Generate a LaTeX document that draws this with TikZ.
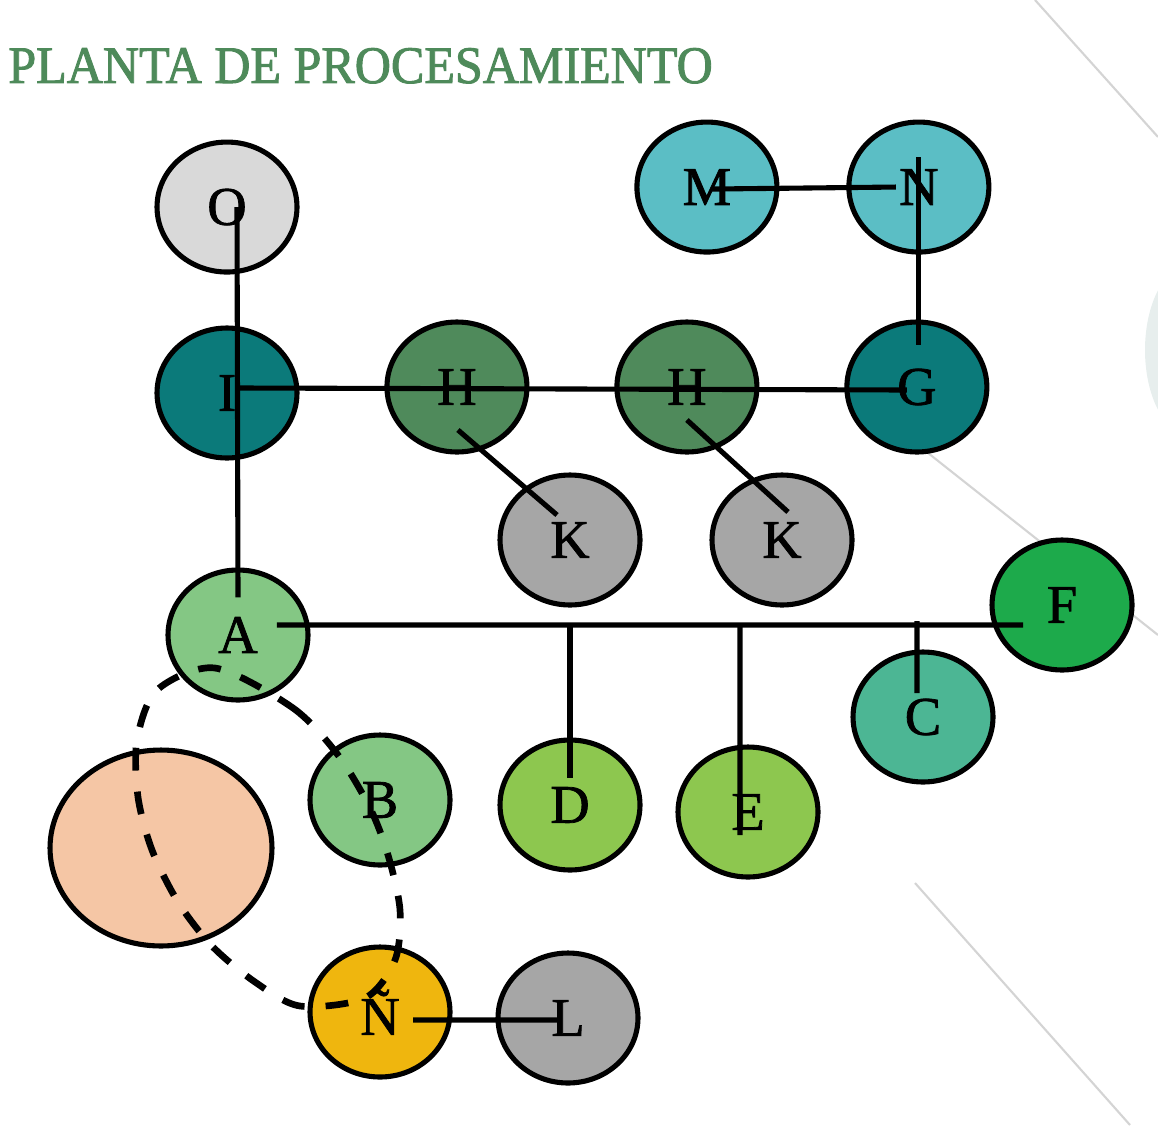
\documentclass[tikz,border=0pt]{standalone}
\usepackage{fontspec}
\usepackage{graphicx}
\setmainfont{Liberation Serif}
\newfontfamily\heavyserif{Liberation Serif}[FakeBold=1.4]
\newfontfamily\titleserif{Liberation Serif}[FakeBold=1.8]
\usepackage{tikz}
\usetikzlibrary{shapes.geometric}

\definecolor{titlegreen}{HTML}{4E8A5A}
\definecolor{lightgrey}{HTML}{D9D9D9}
\definecolor{aqua}{HTML}{5BBEC5}
\definecolor{deepteal}{HTML}{0B7A7A}
\definecolor{mossgreen}{HTML}{4F8A5B}
\definecolor{midgrey}{HTML}{A6A6A6}
\definecolor{brightgreen}{HTML}{1DAA4B}
\definecolor{palegreen}{HTML}{84C784}
\definecolor{seagreen}{HTML}{4CB694}
\definecolor{limegreen}{HTML}{8DC74F}
\definecolor{amber}{HTML}{EFB60E}
\definecolor{peach}{HTML}{F5C6A5}
\definecolor{faint}{HTML}{D4D4D4}
\definecolor{smudge}{HTML}{B9CFCB}

\newcommand{\letterfont}{\heavyserif\fontsize{31}{31}\selectfont}
\newcommand{\titlefont}{\titleserif\fontsize{30}{30}\selectfont}

\tikzstyle{station} = [ellipse, minimum width=2.8cm, minimum height=2.6cm, inner sep=0pt, text centered, draw=black, line width=2.9pt, font=\letterfont]
\tikzstyle{tank} = [station, fill=lightgrey]
\tikzstyle{aquabox} = [station, fill=aqua]
\tikzstyle{hub} = [station, fill=deepteal]
\tikzstyle{press} = [station, fill=mossgreen]
\tikzstyle{aux} = [station, fill=midgrey]
\tikzstyle{outlet} = [station, fill=brightgreen]
\tikzstyle{intake} = [station, fill=palegreen]
\tikzstyle{cbox} = [station, fill=seagreen]
\tikzstyle{feed} = [station, fill=limegreen]
\tikzstyle{collector} = [station, fill=amber]
\tikzstyle{zone} = [station, fill=peach, minimum width=4.44cm, minimum height=3.92cm]
\tikzstyle{link} = [line width=2.9pt]
\tikzstyle{ring} = [line width=3.8pt, dash pattern=on 13pt off 12pt]
\tikzstyle{backline} = [faint, line width=1.2pt]

\begin{document}
\begin{tikzpicture}[x=0.02cm, y=-0.02cm, node distance=4.6cm]
\useasboundingbox (0,0) rectangle (1158,1132);

% faint background lines
\draw [backline] (1035,0) -- (1158,137);
\draw [backline] (880,415) -- (1158,635);
\draw [backline] (915,883) -- (1130,1125);
\fill [smudge, opacity=0.35] (1190,350) ellipse (45 and 85);

\node (title) [anchor=base west, inner sep=0pt, text=titlegreen, font=\titlefont] at (8,83) {\scalebox{0.95}[1]{PLANTA DE PROCESAMIENTO}};

\node (I) [hub] at (227,393) {I};
\node (H1) [press, right of=I, yshift=0.12cm] {H};
\node (H2) [press, right of=H1] {H};
\node (G) [hub, right of=H2] {G};
\node (N) [aquabox, above of=G, yshift=-0.6cm, xshift=0.04cm] {N};
\node (M) [aquabox, left of=N, xshift=0.36cm] {M};
\node (O) [tank, above of=I, yshift=-0.88cm] {O};
\node (K1) [aux] at (570,540) {K};
\node (K2) [aux] at (782,540) {K};
\node (A) [intake] at (238,635) {A};
\node (F) [outlet] at (1062,605) {F};
\node (C) [cbox] at (923,717) {C};
\node (zone) [zone] at (161,848) {};
\node (B) [intake] at (380,800) {B};
\node (D) [feed] at (570,805) {D};
\node (E) [feed] at (748,812) {E};
\node (Nt) [collector] at (380,1012) {Ñ};
\node (L) [aux] at (568,1018) {L};

\coordinate (jD) at (570,625);
\coordinate (jE) at (740,625);
\coordinate (jC) at (917,621);

\draw [link] ([xshift=0.2cm]O.center) -- ([yshift=-0.6cm]A.north);
\draw [link] ([shift={(0.26cm,0.1cm)}]I.center) -- ([shift={(-0.2cm,-0.06cm)}]G.center);
\draw [link] ([shift={(0.1cm,-0.04cm)}]M.center) -- ([xshift=-0.46cm]N.center);
\draw [link] ([yshift=0.6cm]N.center) -- ([shift={(0.04cm,0.84cm)}]G.center);
\draw [link] ([shift={(0.02cm,-0.86cm)}]H1.center) -- ([shift={(-0.26cm,0.5cm)}]K1.center);
\draw [link] ([yshift=-0.66cm]H2.center) -- ([shift={(0.12cm,0.56cm)}]K2.center);
\draw [link] ([shift={(0.78cm,0.2cm)}]A.center) -- ([shift={(-0.78cm,-0.4cm)}]F.center);
\draw [link] (jD) -- ([yshift=0.54cm]D.center);
\draw [link] (jE) -- ([shift={(-0.16cm,-0.46cm)}]E.center);
\draw [link] (jC) -- ([shift={(-0.12cm,0.48cm)}]C.center);
\draw [link] ([shift={(0.66cm,-0.16cm)}]Nt.center) -- ([shift={(-0.16cm,-0.04cm)}]L.center);

% dashed ring round A, B and the tank
\draw [ring] plot [smooth cycle] coordinates {(215,668) (293,708) (338,755) (370,808) (388,855) (400,910) (395,960) (365,998) (300,1006) (255,982) (212,946) (178,902) (152,850) (138,797) (137,740) (157,690)};

\end{tikzpicture}
\end{document}
